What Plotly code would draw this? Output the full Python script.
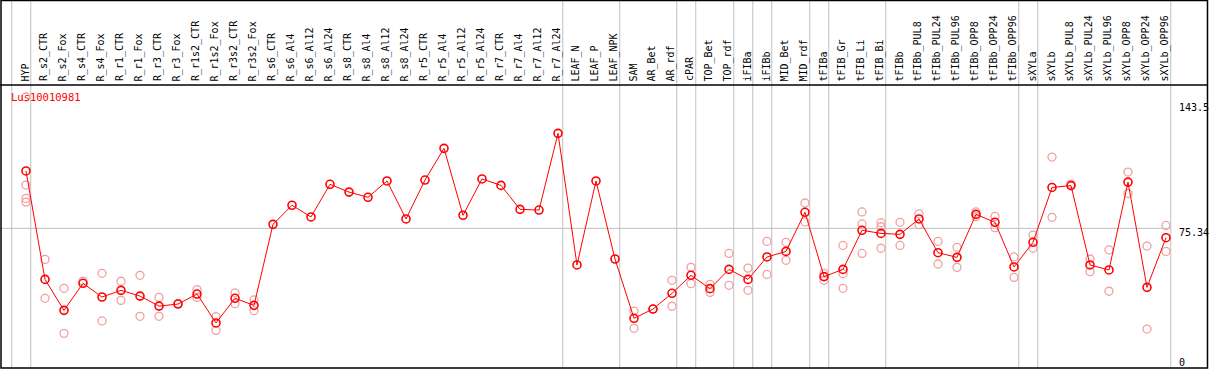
import plotly.graph_objects as go

categories = ["HYP", "R_s2_CTR", "R_s2_Fox", "R_s4_CTR", "R_s4_Fox", "R_r1_CTR", "R_r1_Fox",
              "R_r3_CTR", "R_r3_Fox", "R_r1s2_CTR", "R_r1s2_Fox", "R_r3s2_CTR", "R_r3s2_Fox",
              "R_s6_CTR", "R_s6_Al4", "R_s6_Al12", "R_s6_Al24", "R_s8_CTR", "R_s8_Al4",
              "R_s8_Al12", "R_s8_Al24", "R_r5_CTR", "R_r5_Al4", "R_r5_Al12", "R_r5_Al24",
              "R_r7_CTR", "R_r7_Al4", "R_r7_Al12", "R_r7_Al24", "LEAF_N", "LEAF_P", "LEAF_NPK",
              "SAM", "AR_Bet", "AR_rdf", "cPAR", "TOP_Bet", "TOP_rdf", "iFIBa", "iFIBb",
              "MID_Bet", "MID_rdf", "tFIBa", "tFIB_Gr", "tFIB_Li", "tFIB_Bi", "tFIBb",
              "tFIBb_PUL8", "tFIBb_PUL24", "tFIBb_PUL96", "tFIBb_OPP8", "tFIBb_OPP24",
              "tFIBb_OPP96", "sXYLa", "sXYLb", "sXYLb_PUL8", "sXYLb_PUL24", "sXYLb_PUL96",
              "sXYLb_OPP8", "sXYLb_OPP24", "sXYLb_OPP96"]

mean_vals = [106.3, 47.8, 31.1, 45.7, 38.3, 41.9, 38.8, 33.4, 34.5, 39.9, 24.3, 37.6, 33.8,
             77.5, 87.8, 81.5, 99.1, 94.9, 92.1, 100.9, 80.4, 101.4, 118.5, 82.4, 102.0,
             98.5, 85.6, 85.2, 126.6, 55.6, 100.9, 58.8,
             26.8, 31.8, 40.3, 50.0, 42.8, 53.2, 47.8, 59.9, 62.9, 84.0, 49.3, 53.2, 74.3,
             72.6, 72.1, 80.4, 62.2, 59.7, 82.9, 78.6, 54.5, 67.8, 97.4, 98.4, 55.6, 52.9,
             100.3, 43.5, 70.3]

N = None
rep1 = [146.2, 58.6, 43.0, 46.9, 51.1, 46.8, 50.0, 38.1, 34.9, 42.3, 27.7, 40.5, 36.7,
        N, N, N, N, N, N, N, N, N, N, N, N, N, N, N, N, N, N, N,
        30.7, 31.8, 47.3, 54.3, 45.1, 61.8, 53.9, 68.3, 67.8, 89.0, 51.1, 66.1, 84.2,
        78.4, 78.6, 83.2, 68.3, 65.1, 84.2, 81.8, 59.9, 71.7, 113.8, 99.3, 58.8, 63.7,
        105.7, 65.8, 76.9]
rep2 = [98.7, 37.6, 18.7, N, 25.4, 36.5, 27.9, 27.9, N, 38.1, 20.3, 34.7, 30.9,
        N, N, N, N, N, N, N, N, N, N, N, N, N, N, N, N, N, N, N,
        21.4, N, 33.3, 45.5, 40.8, 44.6, 41.9, 50.5, 58.1, 78.8, 47.3, 50.9, 77.7,
        76.2, 66.1, 77.3, 56.1, 54.3, 81.6, 75.7, 48.9, 64.6, 81.3, N, 52.0, 41.4,
        94.2, 21.0, 62.9]
rep3 = [91.5, N, N, N, N, N, N, N, N, N, N, N, N,
        N, N, N, N, N, N, N, N, N, N, N, N, N, N, N, N, N, N, N,
        N, N, N, N, N, N, N, N, N, N, N, 43.0, 61.8,
        64.6, N, N, N, N, N, N, N, N, N, N, N, N,
        N, N, N]
rep4 = [89.5] + [N] * 60

group_ends = [-1, 0, 28, 31, 34, 35, 37, 38, 39, 41, 42, 45, 52, 53, 60]
y_ticks = [143.5, 75.34, 0]
title_text = "Lus10010981"

W, H = 1209, 370
L, R, T, B = 1, 2, 85, 2
PW, PH = W - L - R, H - T - B
X0PX, DXPX = 26.0, 19.0
SCALE = 266.0 / 143.5
x_lo = (L - X0PX) / DXPX
x_hi = (W - R - X0PX) / DXPX
y_hi = PH / SCALE


def py(p):
    return (H - B - p) / PH


def px(p):
    return (p - L) / PW


xs = list(range(len(categories)))
fig = go.Figure()

rep_color = "#f0a0a0"
for rep in [rep1, rep2, rep3, rep4]:
    fig.add_trace(go.Scatter(
        x=xs, y=rep, mode="markers",
        marker=dict(symbol="circle-open", size=8, color=rep_color, line=dict(width=1.3, color=rep_color)),
        showlegend=False, hoverinfo="skip"))

fig.add_trace(go.Scatter(
    x=xs, y=mean_vals, mode="lines+markers",
    line=dict(color="#ff0000", width=1),
    marker=dict(symbol="circle-open", size=8, color="#ff0000", line=dict(width=1.6, color="#ff0000")),
    showlegend=False))

shapes = []
for g in group_ends:
    shapes.append(dict(type="line", xref="x", yref="paper", x0=g + 0.25, x1=g + 0.25,
                       y0=py(368), y1=py(0), line=dict(color="#c0c0c0", width=1), layer="below"))
shapes.append(dict(type="line", xref="x", yref="y", x0=x_lo, x1=60.25, y0=75.34, y1=75.34,
                   line=dict(color="#c0c0c0", width=1), layer="below"))
# frame and header separator
shapes.append(dict(type="rect", xref="paper", yref="paper", x0=px(1), x1=px(1207.5),
                   y0=py(368), y1=py(0.5), line=dict(color="black", width=1.5)))
shapes.append(dict(type="line", xref="paper", yref="paper", x0=px(0), x1=px(1208),
                   y0=py(85), y1=py(85), line=dict(color="black", width=1.5)))

annotations = []
for i, c in enumerate(categories):
    annotations.append(dict(x=i - 0.05, y=py(83.5), xref="x", yref="paper", text=c, textangle=-90,
                            showarrow=False, xanchor="center", yanchor="bottom",
                            font=dict(family="DejaVu Sans Mono", size=10, color="black")))
annotations.append(dict(x=px(9), y=py(97), xref="paper", yref="paper", text=title_text,
                        showarrow=False, xanchor="left", yanchor="middle",
                        font=dict(family="DejaVu Sans Mono", size=10.5, color="#ff0000")))
for v, cy in zip(y_ticks, [107, 233, 362]):
    annotations.append(dict(x=px(1177), y=py(cy), xref="paper", yref="paper", text=str(v),
                            showarrow=False, xanchor="left", yanchor="middle",
                            font=dict(family="DejaVu Sans Mono", size=10, color="black")))

fig.update_layout(
    width=W, height=H, margin=dict(l=L, r=R, t=T, b=B, pad=0),
    paper_bgcolor="white", plot_bgcolor="white",
    xaxis=dict(range=[x_lo, x_hi], visible=False, showgrid=False, zeroline=False),
    yaxis=dict(range=[0, y_hi], visible=False, showgrid=False, zeroline=False),
    shapes=shapes, annotations=annotations, showlegend=False)

fig.write_html("out.html", config={"displayModeBar": False},
               post_script="document.body.style.margin='0';document.body.style.overflow='hidden';")
